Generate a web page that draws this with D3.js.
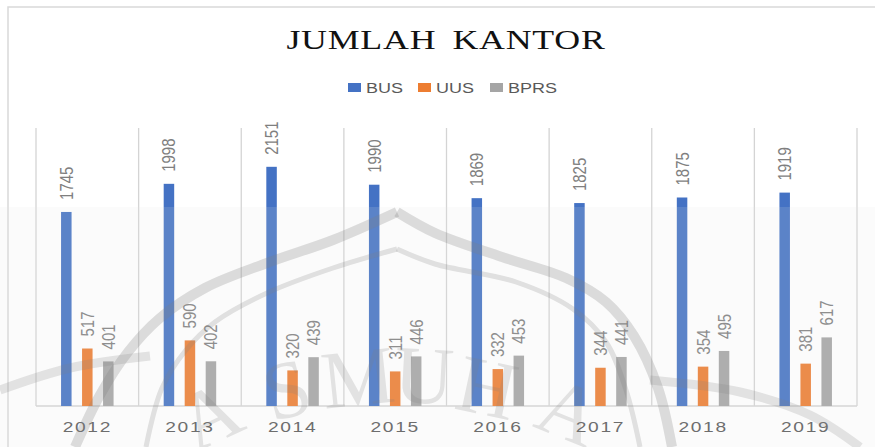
<!DOCTYPE html>
<html>
<head>
<meta charset="utf-8">
<script src="https://cdn.jsdelivr.net/npm/d3@7"></script>
<style>
  body { margin: 0; background: #fff; }
  .title { font-family: "Liberation Serif", "Times New Roman", serif; font-size: 28px; fill: #111; letter-spacing: 0.6px; word-spacing: 5px; }
  .legend text { font-family: "Liberation Sans", Arial, sans-serif; font-size: 15px; fill: #595959; }
  .val { font-family: "Liberation Sans", Arial, sans-serif; font-size: 15px; fill: #7f7f7f; }
  .xlab { font-family: "Liberation Sans", Arial, sans-serif; font-size: 15px; fill: #595959; letter-spacing: 1.3px; }
  .wm { font-family: "Liberation Serif", serif; font-size: 82px; fill: #808080; opacity: 0.2; }
</style>
</head>
<body>
<div id="chart"></div>
<script>
// data
var years = ["2012", "2013", "2014", "2015", "2016", "2017", "2018", "2019"];
var series = ["BUS", "UUS", "BPRS"];
var bus  = [1745, 1998, 2151, 1990, 1869, 1825, 1875, 1919];
var uus  = [517, 590, 320, 311, 332, 344, 354, 381];
var bprs = [401, 402, 439, 446, 453, 441, 495, 617];
var colors = ["#4472C4", "#ED7D31", "#A5A5A5"];

var width = 875, height = 447;
// the source picture is stretched sideways, text is widened to match
var stretch = 1.28;

var svg = d3.select('#chart').append('svg')
    .attr('width', width)
    .attr('height', height);

// outer chart border (only top + left visible in the crop)
svg.append('path')
    .attr('d', 'M8,447 V7 H875')
    .attr('fill', 'none')
    .attr('stroke', '#d9d9d9')
    .attr('stroke-width', 1.5);

// title
svg.append('text')
    .attr('class', 'title')
    .attr('text-anchor', 'middle')
    .attr('transform', 'translate(446,49) scale(' + stretch + ',1)')
    .text('JUMLAH KANTOR');

// legend
var legendX = [348, 418, 490];
var legend = svg.selectAll('.legend')
    .data(series)
    .enter()
    .append('g')
    .attr('class', 'legend')
    .attr('transform', function(d, i) { return 'translate(' + legendX[i] + ',83)'; });

legend.append('rect')
    .attr('width', 13)
    .attr('height', 9)
    .attr('fill', function(d, i) { return colors[i]; });

legend.append('text')
    .attr('transform', 'translate(18,10) scale(1.2,1)')
    .text(function(d) { return d; });

// scales
var x = d3.scaleBand().domain(years).range([36, 857]);
var xs = d3.scaleBand().domain(series).range([-26.25, 26.25]).paddingInner(0.5);
var y = d3.scaleLinear().domain([0, 2500]).range([406, 128]);

// vertical grid between categories
var edges = years.map(function(d) { return x(d); }).concat([x.range()[1]]);
svg.selectAll('.grid')
    .data(edges)
    .enter()
    .append('line')
    .attr('x1', function(d) { return d; })
    .attr('x2', function(d) { return d; })
    .attr('y1', y.range()[1])
    .attr('y2', y.range()[0])
    .attr('stroke', '#d4d4d4')
    .attr('stroke-width', 1.3);

// baseline
svg.append('line')
    .attr('x1', x.range()[0]).attr('x2', x.range()[1])
    .attr('y1', y(0)).attr('y2', y(0))
    .attr('stroke', '#d4d4d4')
    .attr('stroke-width', 1.6);

// rows for drawing
var rows = [];
years.forEach(function(yr, i) {
    [bus, uus, bprs].forEach(function(arr, j) {
        rows.push({ year: yr, key: series[j], value: arr[i], color: colors[j] });
    });
});

function cx(d) { return x(d.year) + x.bandwidth() / 2 + xs(d.key); }

svg.selectAll('.bar')
    .data(rows)
    .enter()
    .append('rect')
    .attr('class', 'bar')
    .attr('x', cx)
    .attr('width', xs.bandwidth())
    .attr('y', function(d) { return y(d.value); })
    .attr('height', function(d) { return y(0) - y(d.value); })
    .attr('fill', function(d) { return d.color; });

// value labels, rotated
svg.selectAll('.val')
    .data(rows)
    .enter()
    .append('text')
    .attr('class', 'val')
    .attr('transform', function(d) {
        return 'translate(' + (cx(d) + xs.bandwidth() / 2) + ',' + (y(d.value) - 12) + ') scale(1.2,1) rotate(-90)';
    })
    .attr('dy', '0.36em')
    .text(function(d) { return d.value; });

// x labels
svg.selectAll('.xlab')
    .data(years)
    .enter()
    .append('text')
    .attr('class', 'xlab')
    .attr('text-anchor', 'middle')
    .attr('transform', function(d) {
        return 'translate(' + (x(d) + x.bandwidth() / 2) + ',432) scale(' + stretch + ',1)';
    })
    .text(function(d) { return d; });

// scanned-page watermark lying over the lower half (logo outline + lettering)
var ov = svg.append('g').attr('pointer-events', 'none');
ov.append('rect')
    .attr('x', 0).attr('y', 207)
    .attr('width', width).attr('height', height - 207)
    .attr('fill', '#e2e2e2')
    .attr('opacity', 0.15);

var curve = d3.line().curve(d3.curveCatmullRom);
var domeOuter = [
    [[397,212],[333,240],[267,263],[205,288],[160,318],[128,352],[100,395],[75,447]],
    [[397,212],[435,233],[502,257],[566,278],[606,302],[634,336],[658,388],[672,447]]
];
var domeInner = [
    [[397,249],[333,268],[267,293],[215,322],[186,350],[162,388],[146,447]],
    [[397,249],[435,264],[516,282],[573,309],[606,342],[626,390],[640,447]]
];
var ring = [
    [[0,390],[70,368],[150,356]],
    [[650,380],[740,392],[810,415],[860,447]]
];

ov.selectAll('.dome1').data(domeOuter).enter().append('path')
    .attr('d', curve)
    .attr('fill', 'none')
    .attr('stroke', '#808080')
    .attr('stroke-width', 10)
    .attr('opacity', 0.26);

ov.selectAll('.dome2').data(domeInner).enter().append('path')
    .attr('d', curve)
    .attr('fill', 'none')
    .attr('stroke', '#808080')
    .attr('stroke-width', 5)
    .attr('opacity', 0.22);

ov.selectAll('.ring').data(ring).enter().append('path')
    .attr('d', curve)
    .attr('fill', 'none')
    .attr('stroke', '#808080')
    .attr('stroke-width', 9)
    .attr('opacity', 0.2);

var wmLetters = [
    { ch: 'A', x: 210, y: 416, r: -25 },
    { ch: 'S', x: 287, y: 390, r: -15 },
    { ch: 'M', x: 358, y: 378, r: -6 },
    { ch: 'U', x: 424, y: 376, r: 3 },
    { ch: 'H', x: 487, y: 388, r: 12 },
    { ch: 'A', x: 569, y: 412, r: 22 }
];
ov.selectAll('.wm').data(wmLetters).enter().append('text')
    .attr('class', 'wm')
    .attr('text-anchor', 'middle')
    .attr('dy', '0.33em')
    .attr('transform', function(d) { return 'translate(' + d.x + ',' + d.y + ') rotate(' + d.r + ')'; })
    .text(function(d) { return d.ch; });
</script>
</body>
</html>
